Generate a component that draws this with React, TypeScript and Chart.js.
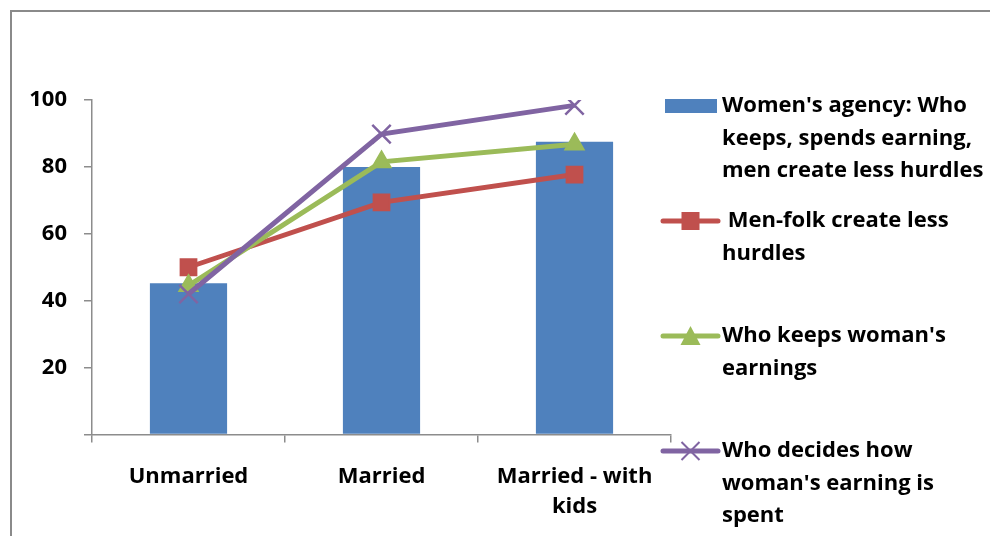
import React, { useEffect, useRef } from 'react';
import { Chart, registerables } from 'chart.js';

Chart.register(...registerables);

// ---- data ----
const categories: (string | string[])[] = ['Unmarried', 'Married', ['Married - with', 'kids']];
const agencyValues = [45.2, 80, 87.5];
const menFolkValues = [50, 69.4, 77.7];
const keepsValues = [44.5, 81.5, 86.8];
const decidesValues = [42, 89.8, 98.4];
const yMin = 0;
const yMax = 100;
const yStep = 20;

const legendLabels: string[][] = [
  ["Women's agency: Who", 'keeps, spends earning,', 'men create less hurdles'],
  [' Men-folk create less', 'hurdles'],
  ["Who keeps woman's", 'earnings'],
  ['Who decides how', "woman's earning is", 'spent'],
];

const BLUE = '#4F81BD';
const RED = '#C0504D';
const GREEN = '#9BBB59';
const PURPLE = '#8064A2';
const AXIS = '#8c8c8c';
const FAMILY = '"Open Sans"';
const FONT_SIZE = 22;

const framePlugin = {
  id: 'frame',
  beforeDraw(chart: any) {
    const ctx = chart.ctx;
    ctx.save();
    ctx.fillStyle = '#ffffff';
    ctx.fillRect(0, 0, chart.width, chart.height);
    ctx.strokeStyle = '#8a8a8a';
    ctx.lineWidth = 2;
    ctx.strokeRect(11, 11, chart.width + 50, chart.height + 50);
    ctx.restore();
  },
};

const legendPlugin = {
  id: 'customLegend',
  afterDraw(chart: any) {
    const ctx = chart.ctx;
    const colors = [BLUE, RED, GREEN, PURPLE];
    const markerX = 690.5;
    const textX = 722;
    const firstY = 106;
    const itemGap = 115;
    const lineGap = 32.5;
    ctx.save();
    ctx.font = `bold ${FONT_SIZE}px ${FAMILY}`;
    ctx.textBaseline = 'middle';
    ctx.textAlign = 'left';
    legendLabels.forEach((lines, i) => {
      const y = firstY + i * itemGap;
      const c = colors[i];
      if (i === 0) {
        ctx.fillStyle = c;
        ctx.fillRect(665, y - 7, 52, 14);
      } else {
        ctx.strokeStyle = c;
        ctx.lineWidth = 5;
        ctx.lineCap = 'round';
        ctx.beginPath();
        ctx.moveTo(663, y);
        ctx.lineTo(718, y);
        ctx.stroke();
        ctx.lineCap = 'butt';
        if (i === 1) {
          ctx.fillStyle = c;
          ctx.fillRect(markerX - 9, y - 9, 18, 18);
        } else if (i === 2) {
          ctx.fillStyle = c;
          ctx.beginPath();
          ctx.moveTo(markerX, y - 10);
          ctx.lineTo(markerX + 10, y + 9);
          ctx.lineTo(markerX - 10, y + 9);
          ctx.closePath();
          ctx.fill();
        } else {
          ctx.lineWidth = 2;
          ctx.beginPath();
          ctx.moveTo(markerX - 9, y - 9);
          ctx.lineTo(markerX + 9, y + 9);
          ctx.moveTo(markerX + 9, y - 9);
          ctx.lineTo(markerX - 9, y + 9);
          ctx.stroke();
        }
      }
      ctx.fillStyle = '#000000';
      lines.forEach((t, j) => {
        ctx.fillText(t, textX, y + j * lineGap);
      });
    });
    ctx.restore();
  },
};

export default function App() {
  const canvasRef = useRef<HTMLCanvasElement | null>(null);

  useEffect(() => {
    if (!canvasRef.current) return;
    const chart = new Chart(canvasRef.current, {
      type: 'bar',
      data: {
        labels: categories as any,
        datasets: [
          {
            type: 'bar',
            label: legendLabels[0].join(' '),
            data: agencyValues,
            backgroundColor: BLUE,
            barPercentage: 0.4,
            categoryPercentage: 1,
            order: 4,
          },
          {
            type: 'line',
            label: legendLabels[1].join(' '),
            data: menFolkValues,
            borderColor: RED,
            backgroundColor: RED,
            borderWidth: 5,
            pointStyle: 'rect',
            pointRadius: 11.5,
            pointBorderWidth: 1.5,
            pointBackgroundColor: RED,
            pointBorderColor: RED,
            order: 3,
          },
          {
            type: 'line',
            label: legendLabels[2].join(' '),
            data: keepsValues,
            borderColor: GREEN,
            backgroundColor: GREEN,
            borderWidth: 5,
            pointStyle: 'triangle',
            pointRadius: 11,
            pointBorderWidth: 1.5,
            pointBackgroundColor: GREEN,
            pointBorderColor: GREEN,
            order: 2,
          },
          {
            type: 'line',
            label: legendLabels[3].join(' '),
            data: decidesValues,
            borderColor: PURPLE,
            backgroundColor: PURPLE,
            borderWidth: 5,
            pointStyle: 'crossRot',
            pointRadius: 13,
            pointBorderWidth: 2.5,
            pointBorderColor: PURPLE,
            order: 1,
          },
        ],
      },
      options: {
        responsive: false,
        animation: false,
        devicePixelRatio: 1,
        layout: { padding: { left: 0, right: 319, top: 100, bottom: 0 } },
        plugins: {
          legend: { display: false },
          tooltip: { enabled: false },
        },
        scales: {
          x: {
            offset: true,
            afterFit: (scale: any) => {
              scale.height = 101.5;
            },
            grid: {
              offset: true,
              drawOnChartArea: false,
              drawTicks: true,
              tickLength: 8,
              color: AXIS,
              lineWidth: 1.5,
            },
            border: { color: AXIS, width: 1.5 },
            ticks: {
              color: '#000000',
              padding: 19.5,
              maxRotation: 0,
              autoSkip: false,
              font: { family: FAMILY, size: FONT_SIZE, weight: 'bold', lineHeight: 30 / FONT_SIZE },
            },
          },
          y: {
            min: yMin,
            max: yMax,
            afterFit: (scale: any) => {
              scale.width = 92;
            },
            grid: {
              drawOnChartArea: false,
              drawTicks: true,
              tickLength: 8,
              color: AXIS,
              lineWidth: 1.5,
            },
            border: { color: AXIS, width: 1.5 },
            ticks: {
              stepSize: yStep,
              color: '#000000',
              padding: 17,
              callback: (v: any) => (Number(v) === 0 ? '' : String(v)),
              font: { family: FAMILY, size: FONT_SIZE, weight: 'bold' },
            },
          },
        },
      },
      plugins: [framePlugin, legendPlugin],
    });
    return () => chart.destroy();
  }, []);

  return (
    <div style={{ position: 'fixed', left: 0, top: 0, width: 990, height: 536 }}>
      <canvas ref={canvasRef} width={990} height={536} style={{ width: 990, height: 536, display: 'block' }} />
    </div>
  );
}
